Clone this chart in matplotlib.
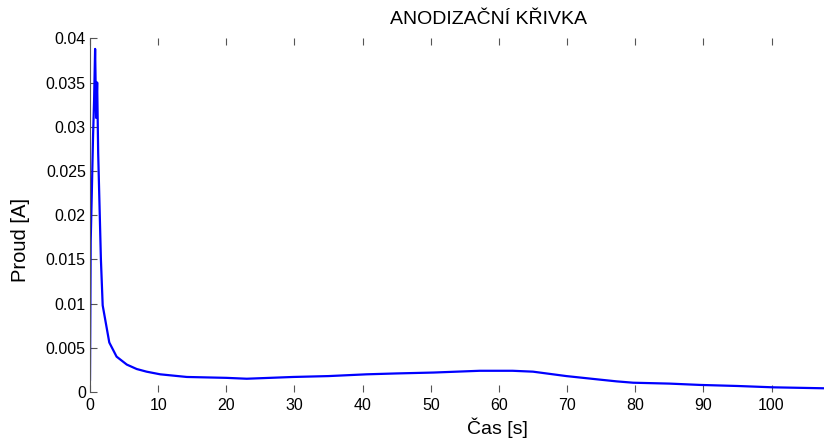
import numpy as np
import matplotlib
matplotlib.use('Agg')
import matplotlib.pyplot as plt
from matplotlib.ticker import FuncFormatter

plt.rcParams['font.family'] = ['Liberation Sans', 'DejaVu Sans']

# anodizing curve
cas = [0, 0.1, 0.25, 0.45, 0.6, 0.75, 0.9, 1.05, 1.2, 1.4, 1.6, 1.86,
       2.83, 3.9, 5.4, 6.85, 8.3, 10.3, 14.2, 20, 23, 29.8, 35, 40.6,
       45, 50.4, 57.2, 62, 65, 69.9, 74.8, 77.3, 79.7, 85, 89.5, 95,
       100.2, 107.7]
proud = [0.0014, 0.017, 0.022, 0.029, 0.033, 0.0388, 0.031, 0.035,
         0.027, 0.021, 0.015, 0.0098,
         0.0056, 0.0040, 0.0031, 0.0026, 0.0023, 0.0020, 0.0017, 0.0016,
         0.0015, 0.0017, 0.0018, 0.0020,
         0.0021, 0.0022, 0.0024, 0.0024, 0.0023, 0.0018, 0.0014, 0.0012,
         0.00105, 0.00095, 0.0008, 0.00068,
         0.00053, 0.00042]

xticks = [0, 10, 20, 30, 40, 50, 60, 70, 80, 90, 100]
yticks = [0, 0.005, 0.01, 0.015, 0.02, 0.025, 0.03, 0.035, 0.04]

W, H = 824, 438
fig = plt.figure(figsize=(W / 100, H / 100), dpi=100)
ax = fig.add_axes([90 / W, 1 - 392 / H, (W - 90) / W, (392 - 38.3) / H])

ax.plot(cas, proud, color='#0000ff', linewidth=1.6)
ax.set_xlim(0, 107.7)
ax.set_ylim(0, 0.04)

ax.set_xticks(xticks)
ax.set_yticks(yticks)
ax.yaxis.set_major_formatter(FuncFormatter(lambda v, p: '%g' % v))
ax.tick_params(axis='both', direction='in', length=5, width=0.8,
               color='#555555', labelsize=11.5, labelcolor='black')
ax.tick_params(axis='x', top=True, bottom=True, pad=4)
ax.tick_params(axis='y', left=True, right=False, pad=3)

for s in ['top', 'right', 'bottom']:
    ax.spines[s].set_visible(False)
ax.spines['left'].set_color('#555555')
ax.spines['left'].set_linewidth(0.8)

fig.text(489 / W, 1 - 20 / H, 'ANODIZAČNÍ KŘIVKA', ha='center', va='center', fontsize=14)
fig.text(497 / W, 1 - 428 / H, 'Čas [s]', ha='center', va='center', fontsize=14)
fig.text(20 / W, 1 - 240 / H, 'Proud [A]', ha='center', va='center',
         rotation=90, fontsize=14.5)

fig.savefig('out.png', dpi=100)
